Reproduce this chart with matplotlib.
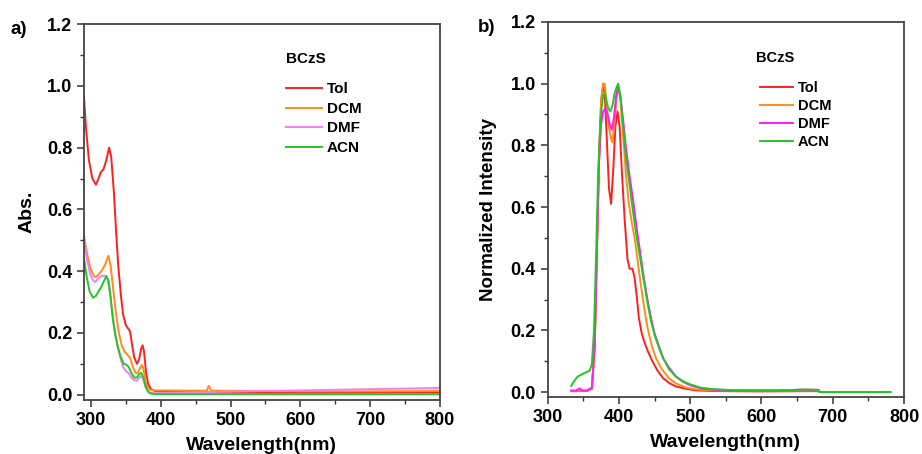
import matplotlib
matplotlib.use('Agg')
import matplotlib.pyplot as plt
from matplotlib.ticker import MultipleLocator

plt.rcParams['font.family'] = ['Liberation Sans', 'DejaVu Sans']
plt.rcParams['font.weight'] = 'bold'

# ---- a) absorption ----
abs_labels = ['Tol', 'DCM', 'DMF', 'ACN']
abs_colors = ['#ff1f1f', '#ff8c1a', '#f47ef4', '#22c822']

tol_x = [290, 293, 297, 302, 307, 311, 314, 318, 322, 326, 329, 333, 336, 339, 343, 346,
         350, 353, 356, 359, 362, 366, 369, 372, 374, 376, 379, 382, 386, 392, 420, 500,
         600, 700, 800]
tol_y = [0.965, 0.86, 0.76, 0.70, 0.68, 0.70, 0.72, 0.73, 0.76, 0.80, 0.77, 0.65, 0.53,
         0.42, 0.32, 0.26, 0.225, 0.215, 0.205, 0.16, 0.12, 0.10, 0.115, 0.15, 0.16, 0.14,
         0.07, 0.035, 0.018, 0.012, 0.009, 0.008, 0.007, 0.008, 0.008]

dcm_x = [290, 294, 299, 304, 307, 311, 315, 320, 325, 328, 332, 336, 340, 344, 348, 352,
         356, 360, 364, 367, 370, 373, 375, 378, 381, 385, 390, 460, 466, 469, 472, 480,
         600, 700, 800]
dcm_y = [0.517, 0.46, 0.41, 0.385, 0.38, 0.39, 0.40, 0.42, 0.45, 0.42, 0.34, 0.26, 0.20,
         0.16, 0.14, 0.13, 0.12, 0.09, 0.07, 0.07, 0.085, 0.096, 0.085, 0.045, 0.025,
         0.016, 0.014, 0.013, 0.014, 0.029, 0.014, 0.013, 0.011, 0.011, 0.012]

dmf_x = [290, 294, 299, 303, 306, 310, 315, 320, 323, 326, 330, 334, 338, 342, 346, 350,
         354, 358, 362, 366, 369, 372, 375, 378, 382, 386, 392, 500, 600, 700, 800]
dmf_y = [0.50, 0.44, 0.39, 0.37, 0.365, 0.375, 0.385, 0.385, 0.38, 0.35, 0.28, 0.21, 0.16,
         0.12, 0.09, 0.077, 0.07, 0.055, 0.047, 0.045, 0.055, 0.06, 0.05, 0.025, 0.01,
         0.006, 0.005, 0.010, 0.014, 0.018, 0.022]

acn_x = [290, 294, 298, 303, 307, 311, 315, 319, 322, 325, 328, 331, 335, 339, 343, 347,
         350, 354, 358, 362, 366, 369, 372, 375, 378, 381, 385, 392, 500, 800]
acn_y = [0.44, 0.38, 0.335, 0.314, 0.32, 0.335, 0.35, 0.37, 0.384, 0.37, 0.32, 0.25, 0.19,
         0.15, 0.12, 0.10, 0.098, 0.09, 0.07, 0.055, 0.056, 0.066, 0.071, 0.055, 0.03,
         0.012, 0.004, 0.002, 0.002, 0.002]

# ---- b) normalized PL ----
pl_labels = ['Tol', 'DCM', 'DMF', 'ACN']
pl_colors = ['#ff1f1f', '#ff8c1a', '#ff1aff', '#22c822']

tol_pl_x = [333, 345, 355, 362, 366, 369, 372, 375, 378, 380, 383, 386, 389, 392, 395, 398,
            401, 404, 408, 412, 415, 419, 422, 425, 428, 432, 436, 441, 447, 454, 462, 470,
            480, 495, 510, 540, 600, 680]
tol_pl_y = [0.003, 0.003, 0.004, 0.01, 0.15, 0.45, 0.75, 0.94, 1.0, 0.97, 0.82, 0.66, 0.61,
            0.72, 0.86, 0.91, 0.86, 0.72, 0.56, 0.43, 0.40, 0.40, 0.37, 0.31, 0.24, 0.19,
            0.16, 0.13, 0.10, 0.07, 0.045, 0.03, 0.018, 0.01, 0.005, 0.003, 0.002, 0.003]

dcm_pl_x = [333, 345, 355, 362, 366, 369, 372, 375, 378, 380, 383, 386, 389, 391, 394, 397,
            399, 402, 406, 410, 414, 418, 422, 426, 430, 435, 440, 446, 452, 460, 470, 480,
            495, 510, 540, 600, 680]
dcm_pl_y = [0.003, 0.004, 0.004, 0.01, 0.15, 0.45, 0.75, 0.95, 1.0, 1.0, 0.93, 0.86, 0.82,
            0.81, 0.88, 0.96, 0.99, 0.95, 0.83, 0.70, 0.61, 0.55, 0.50, 0.43, 0.36, 0.28,
            0.21, 0.15, 0.11, 0.075, 0.045, 0.028, 0.014, 0.008, 0.005, 0.004, 0.005]

dmf_pl_x = [333, 340, 345, 348, 355, 362, 366, 369, 372, 375, 378, 381, 384, 387, 390, 393,
            396, 399, 402, 406, 410, 415, 420, 425, 430, 435, 440, 445, 450, 456, 462, 470,
            480, 490, 500, 515, 530, 560, 620, 660, 680, 681, 781]
dmf_pl_y = [0.005, 0.005, 0.012, 0.005, 0.005, 0.015, 0.15, 0.45, 0.74, 0.87, 0.91, 0.92,
            0.90, 0.87, 0.85, 0.89, 0.96, 0.99, 0.96, 0.88, 0.79, 0.70, 0.62, 0.53, 0.45,
            0.37, 0.30, 0.24, 0.19, 0.15, 0.11, 0.08, 0.05, 0.033, 0.022, 0.012, 0.008,
            0.005, 0.005, 0.008, 0.007, 0.0, 0.0]

acn_pl_x = [333, 337, 342, 346, 350, 355, 359, 362, 365, 368, 371, 374, 377, 380, 382, 385,
            388, 391, 394, 397, 399, 402, 406, 410, 415, 420, 425, 430, 435, 440, 445, 450,
            456, 462, 470, 480, 490, 500, 515, 530, 560, 620, 660, 680, 681, 781]
acn_pl_y = [0.02, 0.035, 0.05, 0.055, 0.06, 0.065, 0.07, 0.09, 0.2, 0.45, 0.72, 0.88, 0.95,
            0.97, 0.95, 0.92, 0.91, 0.93, 0.97, 0.99, 1.0, 0.96, 0.86, 0.76, 0.67, 0.58,
            0.50, 0.43, 0.36, 0.29, 0.23, 0.185, 0.145, 0.11, 0.075, 0.05, 0.035, 0.025,
            0.014, 0.01, 0.006, 0.005, 0.008, 0.007, 0.0, 0.0]

abs_data = [(tol_x, tol_y), (dcm_x, dcm_y), (dmf_x, dmf_y), (acn_x, acn_y)]
pl_data = [(tol_pl_x, tol_pl_y), (dcm_pl_x, dcm_pl_y), (dmf_pl_x, dmf_pl_y), (acn_pl_x, acn_pl_y)]

fig = plt.figure(figsize=(9.22, 4.54), dpi=100)
ax1 = fig.add_axes([0.0911, 0.119, 0.386, 0.828])
ax2 = fig.add_axes([0.594, 0.1256, 0.3865, 0.826])

for (x, y), c, lab in zip(abs_data, abs_colors, abs_labels):
    ax1.plot(x, y, color=c, lw=1.4, label=lab)
for (x, y), c, lab in zip(pl_data, pl_colors, pl_labels):
    ax2.plot(x, y, color=c, lw=1.4, label=lab)

ax1.set_xlim(290, 800)
ax1.set_ylim(-0.017, 1.2)
ax2.set_xlim(300, 800)
ax2.set_ylim(-0.016, 1.2)

ax1.set_ylabel('Abs.', fontsize=14, fontweight='bold', labelpad=8)
ax2.set_ylabel('Normalized Intensity', fontsize=13.5, fontweight='bold', labelpad=10)

for ax in (ax1, ax2):
    ax.set_xlabel('Wavelength(nm)', fontsize=14, fontweight='bold', labelpad=6)
    ax.xaxis.set_major_locator(MultipleLocator(100))
    ax.xaxis.set_minor_locator(MultipleLocator(50))
    ax.yaxis.set_major_locator(MultipleLocator(0.2))
    ax.yaxis.set_minor_locator(MultipleLocator(0.1))
    ax.yaxis.set_major_formatter(plt.FormatStrFormatter('%.1f'))
    ax.tick_params(which='major', direction='out', length=5, width=1.1, labelsize=13,
                   colors='#333333', labelcolor='black')
    ax.tick_params(which='minor', direction='out', length=3, width=1.0, colors='#333333')
    for s in ax.spines.values():
        s.set_linewidth(1.3)
        s.set_color('#444444')
    for t in ax.get_xticklabels() + ax.get_yticklabels():
        t.set_fontweight('bold')

# legend titles drawn as text, legends placed below them
ax1.text(0.568, 0.907, 'BCzS', transform=ax1.transAxes, fontsize=11, fontweight='bold',
         va='center', ha='left')
ax1.legend(loc='upper left', bbox_to_anchor=(0.545, 0.865),
           frameon=False, fontsize=11, handlelength=2.4, handletextpad=0.3,
           labelspacing=0.36, borderpad=0)
ax2.text(0.585, 0.905, 'BCzS', transform=ax2.transAxes, fontsize=10.5, fontweight='bold',
         va='center', ha='left')
ax2.legend(loc='upper left', bbox_to_anchor=(0.575, 0.862),
           frameon=False, fontsize=10.5, handlelength=2.3, handletextpad=0.3,
           labelspacing=0.28, borderpad=0)

fig.text(0.011, 0.935, 'a)', fontsize=13.5, fontweight='bold', va='center')
fig.text(0.518, 0.94, 'b)', fontsize=13.5, fontweight='bold', va='center')

fig.savefig('out.png', dpi=100)
